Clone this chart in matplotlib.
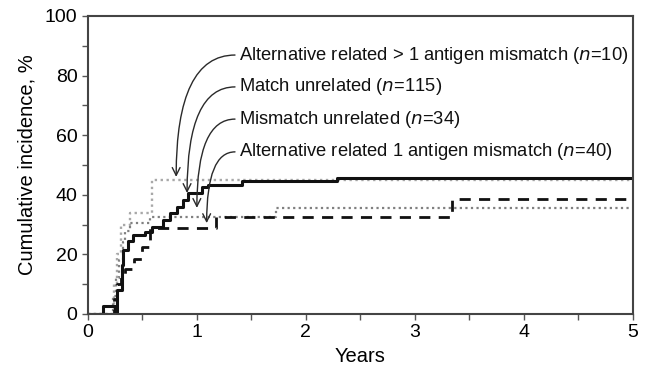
import matplotlib
matplotlib.use("Agg")
import matplotlib.pyplot as plt

plt.rcParams["font.family"] = ["Liberation Sans", "DejaVu Sans"]

# ── data ──────────────────────────────────────────────────────────────────────
match_x = [0, 0.14, 0.25, 0.27, 0.31, 0.32, 0.37, 0.41, 0.52, 0.59, 0.69, 0.75,
           0.82, 0.87, 0.92, 1.05, 1.10, 1.41, 2.29, 5.0]
match_y = [0, 2.7, 0, 8, 16.4, 21.5, 24.5, 26.5, 27.5, 29.2, 31.5, 33.9,
           35.9, 38.3, 40.6, 42.6, 43.3, 44.6, 45.6, 45.6]

alt1_x = [0, 0.24, 0.27, 0.30, 0.34, 0.42, 0.50, 0.57, 1.18, 3.34, 5.0]
alt1_y = [0, 5, 10, 12.5, 15, 18.5, 22.5, 29, 32.6, 38.6, 38.6]

mism_x = [0, 0.23, 0.26, 0.29, 0.32, 0.34, 0.39, 0.57, 1.73, 5.0]
mism_y = [0, 6, 12, 18, 24, 28, 30.5, 32.6, 35.6, 35.6]

alt2_x = [0, 0.24, 0.27, 0.30, 0.39, 0.59, 5.0]
alt2_y = [0, 10, 20, 30, 34, 45, 45]

labels = [
    "Alternative related > 1 antigen mismatch ($n$=10)",
    "Match unrelated ($n$=115)",
    "Mismatch unrelated ($n$=34)",
    "Alternative related 1 antigen mismatch ($n$=40)",
]
label_y = [86.9, 76.2, 65.4, 54.4]
arrow_tip = [(0.81, 46.0), (0.91, 40.6), (1.00, 35.6), (1.09, 30.5)]

fig = plt.figure(figsize=(6.51, 3.72), dpi=100)
ax = fig.add_axes([0.135, 0.156, 0.837, 0.801])

ax.step(alt2_x, alt2_y, where="post", color="#a8a8a8", lw=1.7, ls=(0, (1, 1.5)))
ax.step(mism_x, mism_y, where="post", color="#808080", lw=1.6, ls=(0, (1, 1.5)))
ax.step(alt1_x, alt1_y, where="post", color="#111111", lw=2.0, ls=(0, (4, 3)))
ax.step(match_x, match_y, where="post", color="#111111", lw=2.2)

# annotations with curved arrows
for txt, ty, (tx_tip, ty_tip) in zip(labels, label_y, arrow_tip):
    ax.text(1.39, ty, txt, fontsize=13.2, ha="left", va="center", color="#111111")
    ax.annotate("", xy=(tx_tip, ty_tip), xytext=(1.35, ty),
                arrowprops=dict(arrowstyle="->", color="#2a2a2a", lw=1.0,
                                mutation_scale=14,
                                connectionstyle="angle3,angleA=0,angleB=90",
                                shrinkA=0, shrinkB=0))

ax.set_xlim(0, 5)
ax.set_ylim(0, 100)
ax.set_xticks([0, 1, 2, 3, 4, 5])
ax.set_xticks([0.5, 1.5, 2.5, 3.5, 4.5], minor=True)
ax.set_yticks([0, 20, 40, 60, 80, 100])
ax.set_yticks([10, 30, 50, 70, 90], minor=True)
ax.tick_params(which="both", direction="out", top=False, right=False,
               color="#555555", labelsize=14, length=4.5, width=1, pad=3)
for s in ax.spines.values():
    s.set_color("#444444")
    s.set_linewidth(1.5)

ax.set_xlabel("Years", fontsize=14.5, labelpad=4)
ax.set_ylabel("Cumulative incidence, %", fontsize=14.5, labelpad=6)

fig.savefig("out.png", dpi=100, facecolor="white")
